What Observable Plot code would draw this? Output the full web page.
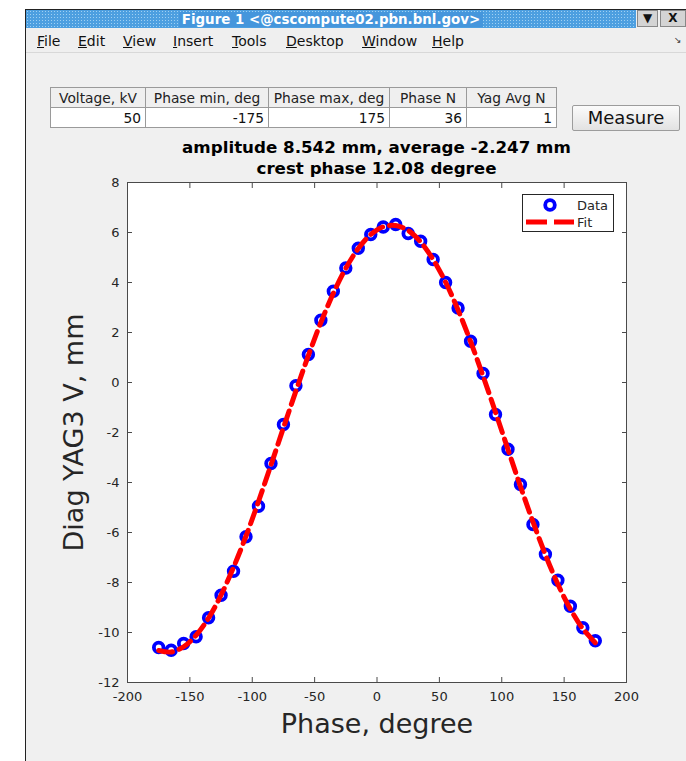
<!DOCTYPE html>
<html><head><meta charset="utf-8">
<script src="https://cdn.jsdelivr.net/npm/d3@7"></script>
<script src="https://cdn.jsdelivr.net/npm/@observablehq/plot@0.6"></script>
<style>
html,body{margin:0;padding:0;background:#fff;}
body{width:686px;height:761px;position:relative;overflow:hidden;font-family:"DejaVu Sans",sans-serif;color:#000;}
#win{position:absolute;left:25px;top:9px;width:661px;height:752px;background:#f0f0f0;border-left:1px solid #222;border-top:1px solid #222;box-sizing:border-box;}
#titlebar{position:absolute;left:26px;top:10px;width:610px;height:18px;background-color:#4d9fe0;
  background-image:radial-gradient(circle,#9fd0f3 0.7px,transparent 1px);background-size:3px 3px;}
#titletext{position:absolute;left:0;right:0;top:0;text-align:center;line-height:18px;}
#titletext span{background:#4596dc;color:#fff;font-weight:bold;font-size:13.4px;padding:0 3px;}
.wbtn{position:absolute;top:10px;height:17px;background:#d4d4d4;border:1px solid #888;box-sizing:border-box;font-size:12px;font-weight:bold;text-align:center;line-height:15px;color:#111;}
#menubar{position:absolute;left:26px;top:28px;width:660px;height:24px;border-bottom:1px solid #d8d8d8;background:#efefef;}
.mi{position:absolute;top:5px;font-size:14px;color:#111;}
#undock{position:absolute;left:674px;top:35px;font-size:9px;color:#333;}
table{position:absolute;left:50px;top:87px;width:506px;table-layout:fixed;border-collapse:collapse;background:#fff;border:1px solid #9a9a9a;font-size:13.8px;}
th{font-weight:normal;background:#efefef;border:1px solid #9a9a9a;height:19px;padding:0;text-align:center;color:#222;white-space:nowrap;overflow:hidden;}
td{border-right:1px solid #9a9a9a;height:19px;padding:0 4px 0 0;text-align:right;color:#111;}
#measure{position:absolute;left:572px;top:105px;width:108px;height:26px;box-sizing:border-box;border:1px solid #9c9c9c;border-radius:2px;
  background:linear-gradient(#fbfbfb,#e2e2e2);font-size:18px;text-align:center;line-height:24px;color:#111;}
.ttl{position:absolute;left:77px;width:599px;text-align:center;font-weight:bold;font-size:16.7px;color:#000;}
#plot{position:absolute;left:0;top:175px;}
#legend{position:absolute;left:522px;top:194px;}
</style></head>
<body>
<div id="win"></div>
<div id="titlebar"><div id="titletext"><span id="wtitle"></span></div></div>
<div class="wbtn" style="left:637px;width:21px;">&#9660;</div>
<div class="wbtn" style="left:660px;width:26px;">X</div>
<div id="menubar"></div>
<div id="undock">&#8600;</div>
<table id="tbl"><colgroup id="cols"></colgroup></table>
<div id="measure"></div>
<div class="ttl" id="t1" style="top:137px;"></div>
<div class="ttl" id="t2" style="top:158px;"></div>
<div id="plot"></div>
<div id="legend"></div>
<script>
// ---- data ----
const windowTitle = "Figure 1 <@cscompute02.pbn.bnl.gov>";
const menuItems = ["File","Edit","View","Insert","Tools","Desktop","Window","Help"];
const tableHeaders = ["Voltage, kV","Phase min, deg","Phase max, deg","Phase N","Yag Avg N"];
const tableValues = ["50","-175","175","36","1"];
const buttonLabel = "Measure";
const titleLines = ["amplitude 8.542 mm, average -2.247 mm","crest phase 12.08 degree"];
const xLabel = "Phase, degree";
const yLabel = "Diag YAG3 V, mm";
const seriesNames = ["Data","Fit"];
const xTicks = [-200,-150,-100,-50,0,50,100,150,200];
const yTicks = [-12,-10,-8,-6,-4,-2,0,2,4,6,8];
const phases = [-175,-165,-155,-145,-135,-125,-115,-105,-95,-85,-75,-65,-55,-45,-35,-25,-15,-5,
                5,15,25,35,45,55,65,75,85,95,105,115,125,135,145,155,165,175];
const dataY = [-10.60,-10.71,-10.44,-10.17,-9.41,-8.51,-7.55,-6.17,-4.95,-3.24,-1.68,-0.13,1.12,2.49,3.65,4.58,5.37,5.92,
               6.22,6.32,5.96,5.65,4.92,4.00,2.98,1.65,0.36,-1.28,-2.67,-4.08,-5.68,-6.87,-7.91,-8.95,-9.81,-10.33];
const fitY = [-10.72,-10.78,-10.57,-10.11,-9.42,-8.50,-7.39,-6.14,-4.76,-3.30,-1.81,-0.34,1.08,2.40,3.57,4.57,5.36,5.92,
              6.23,6.28,6.08,5.62,4.92,4.01,2.90,1.64,0.26,-1.19,-2.68,-4.16,-5.57,-6.89,-8.07,-9.06,-9.85,-10.41];

// ---- chrome ----
document.getElementById("wtitle").textContent = windowTitle;
const menuLeft = [37,78,123,173,232,286,362,432];
const mb = document.getElementById("menubar");
menuItems.forEach((m,i)=>{
  const s=document.createElement("span"); s.className="mi"; s.style.left=(menuLeft[i]-26)+"px";
  s.innerHTML="<u>"+m[0]+"</u>"+m.slice(1); mb.appendChild(s);
});
const colW=[95,123,121,77,90];
const tbl=document.getElementById("tbl");
const cg=document.getElementById("cols");
colW.forEach(w=>{const c=document.createElement("col");c.style.width=w+"px";cg.appendChild(c);});
const hr=tbl.insertRow(); tableHeaders.forEach(h=>{const c=document.createElement("th");c.textContent=h;hr.appendChild(c);});
const dr=tbl.insertRow(); tableValues.forEach(v=>{const c=dr.insertCell();c.textContent=v;});
document.getElementById("measure").textContent=buttonLabel;
document.getElementById("t1").textContent=titleLines[0];
document.getElementById("t2").textContent=titleLines[1];

// ---- chart ----
const rows = phases.map((p,i)=>({phase:p, v:dataY[i], fit:fitY[i]}));
const fmt = d => String(d);
const ink = "#262626";
const chart = Plot.plot({
  width: 686, height: 586,
  marginTop: 7, marginRight: 60, marginBottom: 79, marginLeft: 127,
  x: {domain: [-200, 200]},
  y: {domain: [-12, 8]},
  style: {fontFamily: '"DejaVu Sans", sans-serif', background: "transparent", color: ink, overflow: "visible"},
  marks: [
    Plot.frame({fill: "white", stroke: null}),
    Plot.dot(rows, {x: "phase", y: "v", r: 4.8, stroke: "#0000ff", strokeWidth: 3.8, fill: "none"}),
    Plot.line(rows, {x: "phase", y: "fit", stroke: "#ff0000", strokeWidth: 5, strokeDasharray: "14,7", curve: "catmull-rom"}),
    Plot.frame({stroke: "#4a4a4a", strokeWidth: 1}),
    Plot.axisX(xTicks, {anchor: "bottom", tickSize: 0, tickPadding: 9, fontSize: 13, label: null, tickFormat: fmt, fill: ink}),
    Plot.axisY(yTicks, {anchor: "left", tickSize: 0, tickPadding: 8, fontSize: 13, label: null, tickFormat: fmt, fill: ink}),
    Plot.axisX(xTicks, {anchor: "bottom", tickSize: -5, fill: "none", label: null, stroke: "#4a4a4a"}),
    Plot.axisX(xTicks, {anchor: "top", tickSize: -5, fill: "none", label: null, stroke: "#4a4a4a"}),
    Plot.axisY(yTicks, {anchor: "left", tickSize: -5, fill: "none", label: null, stroke: "#4a4a4a"}),
    Plot.axisY(yTicks, {anchor: "right", tickSize: -5, fill: "none", label: null, stroke: "#4a4a4a"}),
    Plot.text([xLabel], {text: d => d, frameAnchor: "bottom", dy: 50, lineAnchor: "bottom", textAnchor: "middle", fontSize: 27, fill: ink}),
    Plot.text([yLabel], {text: d => d, frameAnchor: "left", dx: -64, rotate: -90, lineAnchor: "top", textAnchor: "middle", fontSize: 27, fill: ink})
  ]
});
document.getElementById("plot").appendChild(chart);

// ---- legend ----
const lg = d3.select("#legend").append("svg").attr("width", 92).attr("height", 38)
  .style("font-family", '"DejaVu Sans", sans-serif');
lg.append("rect").attr("x",0.5).attr("y",0.5).attr("width",91).attr("height",37).attr("fill","white").attr("stroke","#262626");
lg.append("circle").attr("cx",28).attr("cy",11).attr("r",4.8).attr("fill","none").attr("stroke","#0000ff").attr("stroke-width",3.8);
lg.append("line").attr("x1",4).attr("x2",52).attr("y1",28).attr("y2",28).attr("stroke","#ff0000").attr("stroke-width",5).attr("stroke-dasharray","21,7");
lg.append("text").attr("x",55).attr("y",16).attr("font-size",13).attr("fill",ink).text(seriesNames[0]);
lg.append("text").attr("x",55).attr("y",33).attr("font-size",13).attr("fill",ink).text(seriesNames[1]);
</script>
</body></html>
